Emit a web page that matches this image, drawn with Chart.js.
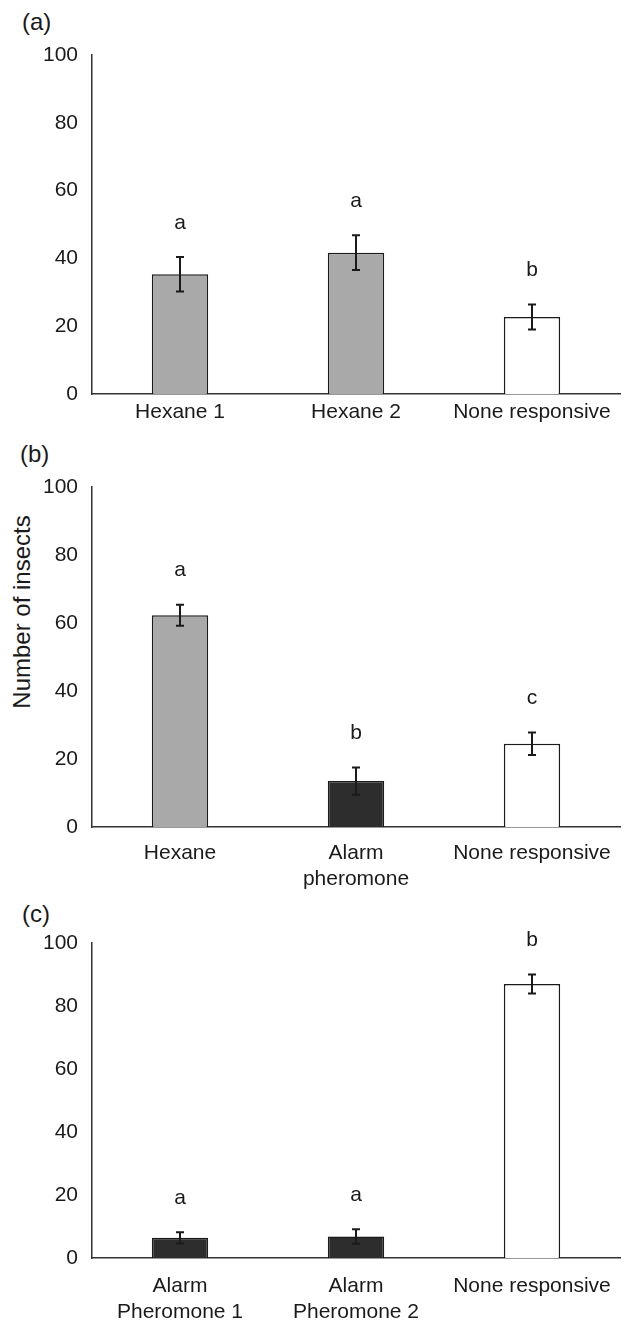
<!DOCTYPE html>
<html>
<head>
<meta charset="utf-8">
<script src="https://cdn.jsdelivr.net/npm/chart.js@4/dist/chart.umd.min.js"></script>
<style>
  html, body { margin: 0; padding: 0; background: #fff; }
  body { width: 627px; height: 1321px; position: relative; overflow: hidden; font-family: "Liberation Sans", Arial, sans-serif; color: #1a1a1a; }
  canvas { position: absolute; left: 0; }
  .panel { position: absolute; font-size: 24px; line-height: 1; }
  .ytitle { position: absolute; font-size: 24px; white-space: nowrap; transform: translate(-50%, -50%) rotate(-90deg); }
</style>
</head>
<body>
<div class="panel" style="left:22px; top:10px;">(a)</div>
<div class="panel" style="left:20px; top:442px;">(b)</div>
<div class="panel" style="left:22px; top:902px;">(c)</div>
<div class="ytitle" style="left:22px; top:612px;">Number of insects</div>

<canvas id="chartA" width="627" height="445" style="top:0px;width:627px;height:445px"></canvas>
<canvas id="chartB" width="627" height="450" style="top:440px;width:627px;height:450px"></canvas>
<canvas id="chartC" width="627" height="426" style="top:895px;width:627px;height:426px"></canvas>

<script>
/* ---------- data ---------- */
const GRAY = '#a9a9a9', DARK = '#2d2d2d', WHITE = '#ffffff';

const catsA    = ['Hexane 1', 'Hexane 2', 'None responsive'];
const meansA   = [35.3, 41.7, 22.7];
const errA     = [5.1, 5.1, 3.7];
const lettersA = ['a', 'a', 'b'];
const fillsA   = [GRAY, GRAY, WHITE];

const catsB    = ['Hexane', ['Alarm', 'pheromone'], 'None responsive'];
const meansB   = [62.3, 13.5, 24.5];
const errB     = [3.1, 4.0, 3.3];
const lettersB = ['a', 'b', 'c'];
const fillsB   = [GRAY, DARK, WHITE];

const catsC    = [['Alarm', 'Pheromone 1'], ['Alarm', 'Pheromone 2'], 'None responsive'];
const meansC   = [6.4, 6.8, 87.0];
const errC     = [1.8, 2.3, 3.0];
const lettersC = ['a', 'a', 'b'];
const fillsC   = [DARK, DARK, WHITE];

const yTicks = [0, 20, 40, 60, 80, 100];

const INK = '#1a1a1a';
const FONT = '"Liberation Sans", Arial, sans-serif';

/* error bars + significance letters */
const errPlugin = {
  id: 'errLetters',
  afterDatasetsDraw(chart, args, opts) {
    const ctx = chart.ctx, y = chart.scales.y;
    const meta = chart.getDatasetMeta(0);
    ctx.save();
    ctx.strokeStyle = INK;
    ctx.lineWidth = 2;
    ctx.fillStyle = INK;
    ctx.font = '21px ' + FONT;
    ctx.textAlign = 'center';
    ctx.textBaseline = 'middle';
    meta.data.forEach((bar, i) => {
      const m = opts.means[i], e = opts.errs[i];
      const top = y.getPixelForValue(m + e), bot = y.getPixelForValue(m - e);
      const x = bar.x, cap = 4;
      ctx.beginPath();
      ctx.moveTo(x, top); ctx.lineTo(x, bot);
      ctx.moveTo(x - cap, top); ctx.lineTo(x + cap, top);
      ctx.moveTo(x - cap, bot); ctx.lineTo(x + cap, bot);
      ctx.stroke();
      ctx.fillText(opts.letters[i], x, top - 34);
    });
    ctx.restore();
  }
};

function makeChart(id, cats, means, errs, letters, fills, padTop, xHeight, xPad) {
  return new Chart(document.getElementById(id), {
    type: 'bar',
    data: {
      labels: cats,
      datasets: [{
        data: means,
        backgroundColor: fills,
        borderColor: INK,
        borderWidth: 1.5,
        barPercentage: 0.32,
        categoryPercentage: 1
      }]
    },
    options: {
      responsive: false,
      devicePixelRatio: 1,
      animation: false,
      layout: { padding: { top: padTop, right: 7, left: 0, bottom: 0 } },
      plugins: {
        legend: { display: false },
        tooltip: { enabled: false },
        errLetters: { means: means, errs: errs, letters: letters }
      },
      scales: {
        x: {
          grid: { display: false, drawTicks: false },
          border: { display: true, color: '#333', width: 1.5 },
          ticks: { color: INK, font: { family: FONT, size: 21, lineHeight: 1.25 }, padding: xPad, maxRotation: 0, autoSkip: false },
          afterFit: s => { s.height = xHeight; }
        },
        y: {
          min: 0, max: 100,
          afterBuildTicks: s => { s.ticks = yTicks.map(v => ({ value: v })); },
          grid: { display: false, drawTicks: false },
          border: { display: true, color: '#333', width: 1.5 },
          ticks: { color: INK, font: { family: FONT, size: 21 }, padding: 14 },
          afterFit: s => { s.width = 92; }
        }
      }
    },
    plugins: [errPlugin]
  });
}

makeChart('chartA', catsA, meansA, errA, lettersA, fillsA, 55, 51, 5);
makeChart('chartB', catsB, meansB, errB, lettersB, fillsB, 47, 63, 13);
makeChart('chartC', catsC, meansC, errC, lettersC, fillsC, 48, 63, 15);
</script>
</body>
</html>
